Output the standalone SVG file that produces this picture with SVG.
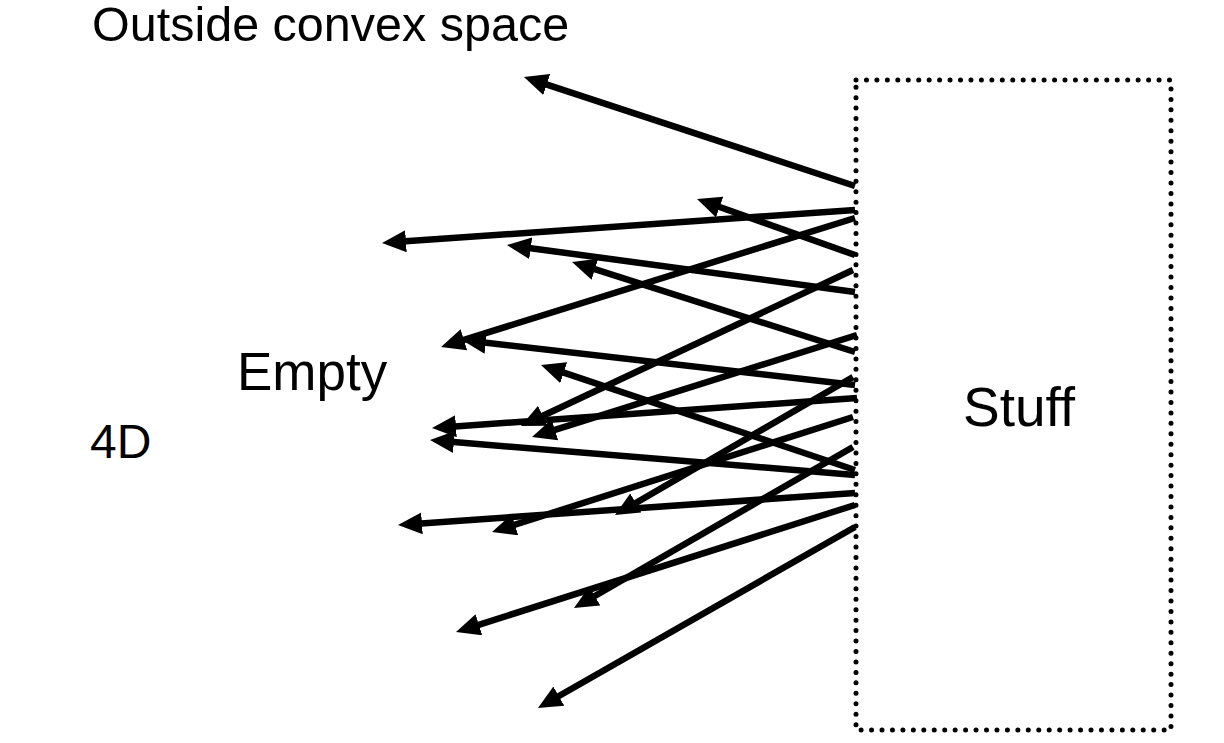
<svg xmlns="http://www.w3.org/2000/svg" width="1224" height="743" viewBox="0 0 1224 743">
<style>
.lbl{font-family:"Liberation Sans",Arial,sans-serif;fill:#000}
.arr{stroke:#000;stroke-width:6.5;fill:none;marker-end:url(#ah)}
</style>
<defs>
<marker id="ah" viewBox="0 0 24 22" markerWidth="24" markerHeight="22" markerUnits="userSpaceOnUse" refX="15" refY="11" orient="auto">
<path d="M0,0 L24,11 L0,22 z" fill="#000"/>
</marker>
</defs>
<rect width="1224" height="743" fill="#fff"/>
<g id="outside"><text class="lbl" x="92" y="41" font-size="48.5">Outside convex space</text></g>
<g id="empty"><text class="lbl" x="237" y="390" font-size="53">Empty</text></g>
<g id="fourd"><text class="lbl" x="90" y="458" font-size="48">4D</text></g>
<g id="stuff">
<rect x="856" y="80" width="315" height="650" fill="none" stroke="#000" stroke-width="5" stroke-linecap="round" stroke-dasharray="0 10.45"/>
<text class="lbl" x="963" y="426" font-size="55">Stuff</text>
</g>
<g id="connectors">
<line class="arr" x1="855" y1="186" x2="532.5" y2="79.8"/>
<line class="arr" x1="855" y1="210" x2="391" y2="242.3"/>
<line class="arr" x1="855" y1="255" x2="705.5" y2="202"/>
<line class="arr" x1="855" y1="292" x2="515.9" y2="246.2"/>
<line class="arr" x1="855" y1="352" x2="580.6" y2="264.7"/>
<line class="arr" x1="855" y1="218" x2="449.6" y2="344.3"/>
<line class="arr" x1="855" y1="385" x2="470.9" y2="341"/>
<line class="arr" x1="855" y1="470" x2="549.5" y2="367.9"/>
<line class="arr" x1="853" y1="270" x2="529.1" y2="422.2"/>
<line class="arr" x1="857" y1="398" x2="441" y2="427.4"/>
<line class="arr" x1="855" y1="475" x2="439" y2="440.8"/>
<line class="arr" x1="855" y1="493" x2="407" y2="524.4"/>
<line class="arr" x1="853" y1="417" x2="500.6" y2="529.3"/>
<line class="arr" x1="853" y1="377" x2="622.8" y2="510.5"/>
<line class="arr" x1="855" y1="505" x2="464.6" y2="629.3"/>
<line class="arr" x1="853" y1="447" x2="581.8" y2="603.5"/>
<line class="arr" x1="855" y1="527" x2="545.8" y2="703.5"/>
<line class="arr" x1="857" y1="335" x2="540.6" y2="434.3"/>
</g>
</svg>
